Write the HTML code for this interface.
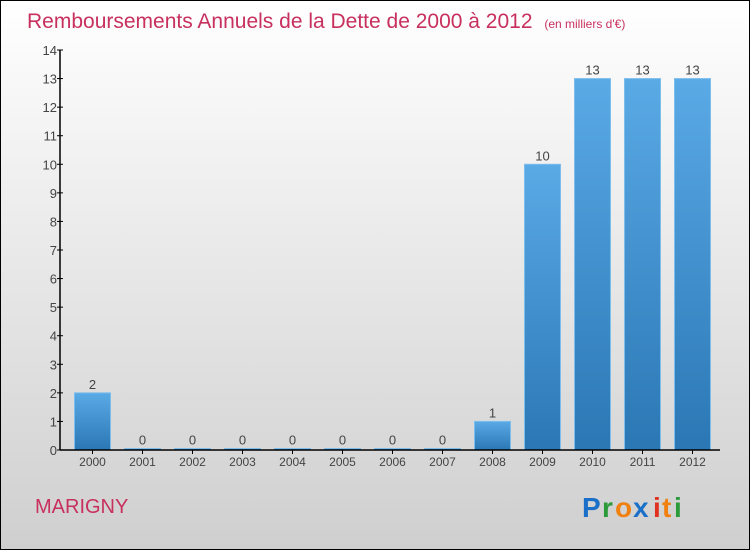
<!DOCTYPE html>
<html><head><meta charset="utf-8"><style>
body{margin:0;width:750px;height:550px;overflow:hidden;font-family:"Liberation Sans",sans-serif}
svg{display:block}
</style></head><body>
<svg width="750" height="550">
<defs>
<linearGradient id="bg" x1="0" y1="0" x2="0" y2="1"><stop offset="0" stop-color="#ffffff"/><stop offset="1" stop-color="#cfcfcf"/></linearGradient>
<linearGradient id="bar" x1="0" y1="0" x2="0" y2="1"><stop offset="0" stop-color="#5aaae6"/><stop offset="1" stop-color="#2a77b4"/></linearGradient>
</defs>
<rect x="0.5" y="0.5" width="749" height="549" fill="url(#bg)" stroke="#000"/>
<text x="27" y="28" font-size="21" fill="#c8305e">Remboursements Annuels de la Dette de 2000 à 2012 <tspan font-size="12" dx="6">(en milliers d'€)</tspan></text>
<g id="plot"></g>
<text x="35" y="513" font-size="20" fill="#c8305e">MARIGNY</text>
<g font-size="28" font-weight="bold">
<text x="582" y="517" fill="#1a70c8">P</text><text x="602" y="517" fill="#2a9a3a">r</text><text x="615" y="517" fill="#f08010">o</text><text x="633" y="517" fill="#1a70c8">x</text><text x="653" y="517" fill="#e03020">i</text><text x="662" y="517" fill="#f08010">t</text><text x="674" y="517" fill="#2a9a3a">i</text>
</g>
</svg>
<script>
const categories=["2000","2001","2002","2003","2004","2005","2006","2007","2008","2009","2010","2011","2012"];
const values=[2,0,0,0,0,0,0,0,1,10,13,13,13];
const yTicks=[0,1,2,3,4,5,6,7,8,9,10,11,12,13,14];
const NS="http://www.w3.org/2000/svg";
const g=document.getElementById('plot');
const x0=60,x1=720,yB=450,yT=50,yMax=14;
const y=v=>yB-(v/yMax)*(yB-yT);
const step=(x1-x0-10)/categories.length;
const xc=i=>x0+8+step*(i+0.5)-0.5;
function el(t,a){const e=document.createElementNS(NS,t);for(const k in a)e.setAttribute(k,a[k]);g.appendChild(e);return e;}
yTicks.forEach(t=>{
 const l=el('line',{x1:x0-3,x2:x0+3,y1:y(t),y2:y(t),stroke:'#000'});
 
 
 const tx=el('text',{x:x0-3,y:y(t)+5,'font-size':13,fill:'#444','text-anchor':'end'});
 tx.textContent=t;
 
 
});
categories.forEach((c,i)=>{
 const v=values[i],w=36,h=Math.max(yB-y(v),1.5);
 const r=el('rect',{x:xc(i)-w/2,y:yB-h,width:w,height:h,fill:'url(#bar)',stroke:'#7dbdec','stroke-width':1});
 
 
 const vl=el('text',{x:xc(i),y:yB-h-4,'font-size':13,fill:'#444','text-anchor':'middle'});
 vl.textContent=v;
 
 
 const tk=el('line',{x1:xc(i),x2:xc(i),y1:yB,y2:yB+4,stroke:'#000'});
 
 
 const xl=el('text',{x:xc(i),y:yB+16,'font-size':12,fill:'#444','text-anchor':'middle'});
 xl.textContent=c;
 
 
});
const ya=el('line',{x1:x0,x2:x0,y1:yT,y2:yB,stroke:'#000','stroke-width':1.5});


const xa=el('line',{x1:x0,x2:x1,y1:yB,y2:yB,stroke:'#000','stroke-width':1.5});


</script>
</body></html>
